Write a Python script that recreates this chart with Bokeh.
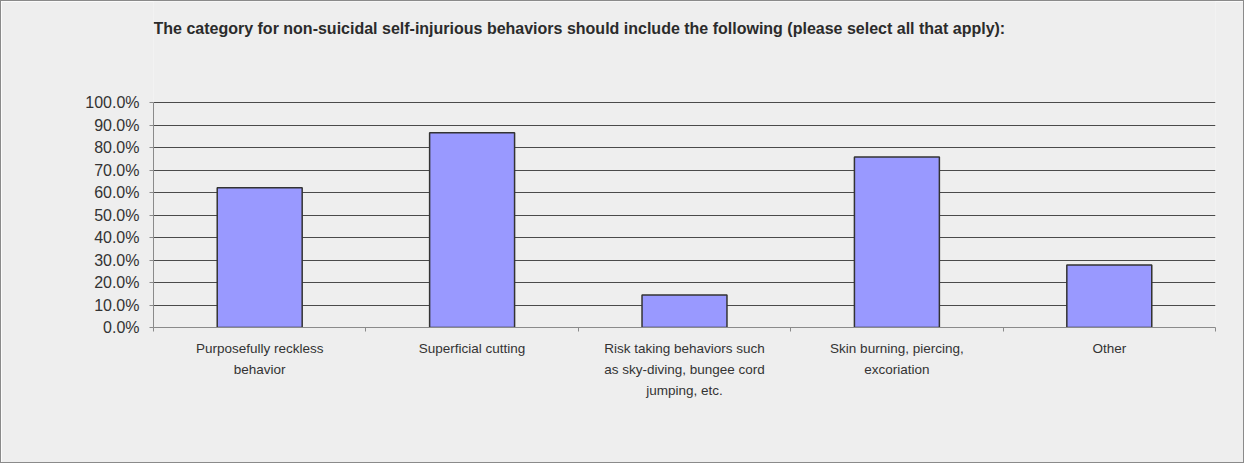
from bokeh.plotting import figure
from bokeh.models import (FactorRange, Range1d, LinearAxis, FixedTicker,
                          NumeralTickFormatter, Label, ColumnDataSource)
from bokeh.embed import file_html
from bokeh.resources import INLINE

# Survey responses (share of respondents selecting each option)
categories = [
    "Purposefully reckless behavior",
    "Superficial cutting",
    "Risk taking behaviors such as sky-diving, bungee cord jumping, etc.",
    "Skin burning, piercing, excoriation",
    "Other",
]
tick_labels = [
    "Purposefully reckless\nbehavior",
    "Superficial cutting",
    "Risk taking behaviors such\nas sky-diving, bungee cord\njumping, etc.",
    "Skin burning, piercing,\nexcoriation",
    "Other",
]
shares = [0.621, 0.866, 0.144, 0.758, 0.278]
y_ticks = [0.0, 0.1, 0.2, 0.3, 0.4, 0.5, 0.6, 0.7, 0.8, 0.9, 1.0]
title_text = ("The category for non-suicidal self-injurious behaviors should "
              "include the following (please select all that apply):")

BG = "#eeeeee"
GRID = "#4a4a4a"
AXIS = "#8a8a8a"
TEXT = "#333333"

# the plotting area runs to the top of the canvas; headroom above 100%
# holds the title
Y_TOP = 1.449

source = ColumnDataSource(data=dict(cat=categories, share=shares))

p = figure(
    x_range=FactorRange(*categories, range_padding=0),
    y_range=Range1d(0, Y_TOP),
    width=1244, height=463,
    x_axis_location=None,
    output_backend="svg", toolbar_location=None, tools="",
    min_border_left=152, min_border_right=30,
    min_border_top=0, min_border_bottom=137,
    background_fill_color=BG, border_fill_color=BG,
)
p.title = None
p.styles = {"border": "1px solid #8a8a8a"}
p.outline_line_color = None

p.vbar(x="cat", top="share", width=0.4, source=source,
       fill_color="#9999ff", line_color="#333333", line_width=1.5)

# y axis, its line limited to the 0-100% span
yax = p.yaxis[0]
yax.bounds = (0, 1)
yax.ticker = FixedTicker(ticks=y_ticks)
yax.formatter = NumeralTickFormatter(format="0.0%")
yax.axis_line_color = AXIS
yax.major_tick_line_color = AXIS
yax.major_tick_out = 4
yax.major_tick_in = 0
yax.minor_tick_line_color = None
yax.major_label_standoff = 10
yax.major_label_text_font = "Liberation Sans"
yax.major_label_text_font_size = "16px"
yax.major_label_text_color = TEXT

p.ygrid.ticker = FixedTicker(ticks=y_ticks[1:])
p.ygrid.grid_line_color = GRID
p.ygrid.grid_line_width = 1
p.xgrid.grid_line_color = None

n = len(categories)
edges = list(range(n + 1))
centers = [i + 0.5 for i in range(n)]

# boundary ticks between categories (synthetic factor coordinates)
edge_axis = LinearAxis(
    ticker=FixedTicker(ticks=edges),
    major_label_overrides={e: "" for e in edges},
    axis_line_color=AXIS, major_tick_line_color=AXIS,
    major_tick_out=4, major_tick_in=0, minor_tick_line_color=None,
    major_label_standoff=0, major_label_text_font_size="1px",
)

# wrapped category labels at the centre of each category
label_axis = LinearAxis(
    ticker=FixedTicker(ticks=centers),
    major_label_overrides=dict(zip(centers, tick_labels)),
    axis_line_color=None, major_tick_line_color=None, minor_tick_line_color=None,
    major_label_text_font="Liberation Sans", major_label_text_font_size="13.5px",
    major_label_text_line_height=1.42,
    major_label_text_color=TEXT, major_label_standoff=3,
)
p.add_layout(edge_axis, "below")
p.add_layout(label_axis, "below")

# chart title, left-aligned with the plotting area
p.add_layout(Label(
    x=0, y=299, x_units="screen", y_units="screen",
    text=title_text, text_baseline="alphabetic",
    text_font="Liberation Sans", text_font_style="bold",
    text_font_size="16px", text_color="#2b2b2b",
))

open("out.html", "w").write(file_html(p, INLINE))
